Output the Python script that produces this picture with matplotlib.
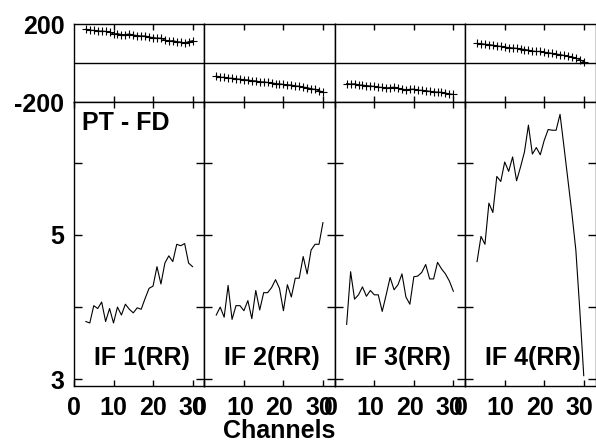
import numpy as np
import matplotlib
matplotlib.use('Agg')
import matplotlib.pyplot as plt
import matplotlib.transforms as mtransforms

plt.rcParams['font.family'] = ['Liberation Sans', 'DejaVu Sans']
plt.rcParams['font.weight'] = 'bold'

# Channels
channels = np.arange(3, 31)

# Top row: PT - FD differences per IF
top_if1 = [173, 169, 167, 164, 164, 162, 159, 149, 151, 146, 146, 149, 144, 141,
           139, 139, 133, 131, 128, 128, 118, 113, 115, 110, 108, 103, 110, 115]
top_if2 = [-65, -72, -71, -76, -76, -80, -81, -84, -85, -89, -90, -95, -95, -98,
           -99, -104, -105, -108, -110, -111, -116, -117, -122, -124, -130, -133, -140, -147]
top_if3 = [-104, -106, -105, -110, -112, -114, -116, -118, -122, -123, -126, -124, -122, -127,
           -132, -135, -133, -132, -137, -138, -140, -143, -146, -147, -148, -152, -156, -159]
top_if4 = [101, 100, 97, 95, 92, 88, 86, 82, 80, 78, 76, 73, 70, 67,
           62, 60, 60, 56, 54, 50, 47, 44, 40, 36, 32, 27, 18, 8]

# Bottom row: RR values per IF
rr_if1 = [3.80, 3.78, 4.02, 3.98, 4.07, 3.80, 3.98, 3.78, 4.00, 3.89, 4.04, 3.97, 3.92, 3.99,
          3.97, 4.12, 4.26, 4.29, 4.56, 4.32, 4.61, 4.71, 4.63, 4.87, 4.85, 4.88, 4.61, 4.56]
rr_if2 = [3.89, 4.00, 3.86, 4.30, 3.83, 4.02, 4.02, 3.95, 4.09, 3.84, 4.23, 3.96, 4.20, 4.20,
          4.27, 4.38, 4.26, 3.95, 4.31, 4.14, 4.40, 4.40, 4.70, 4.46, 4.79, 4.87, 4.87, 5.17]
rr_if3 = [3.76, 4.49, 4.11, 4.17, 4.28, 4.15, 4.23, 4.17, 4.17, 3.94, 4.17, 4.41, 4.24, 4.31,
          4.46, 4.14, 4.04, 4.42, 4.43, 4.48, 4.59, 4.39, 4.39, 4.62, 4.53, 4.46, 4.36, 4.22]
rr_if4 = [4.63, 4.98, 4.87, 5.44, 5.31, 5.81, 5.74, 6.01, 5.88, 6.08, 5.75, 5.94, 6.15, 6.52,
          6.12, 6.21, 6.11, 6.31, 6.46, 6.45, 6.45, 6.67, 6.22, 5.76, 5.30, 4.79, 3.96, 3.05]

tops = [top_if1, top_if2, top_if3, top_if4]
rrs = [rr_if1, rr_if2, rr_if3, rr_if4]
labels = ['IF 1(RR)', 'IF 2(RR)', 'IF 3(RR)', 'IF 4(RR)']

W, H = 596, 444
fig = plt.figure(figsize=(W / 100, H / 100), dpi=100)

left0 = 74
pw = 130.4
top_y0, top_y1 = 24, 102.5
bot_y1 = 386
fs = 18

# tick labels sit a little left of their ticks in the original
shift = mtransforms.ScaledTranslation(-4 / 100, 0, fig.dpi_scale_trans)

for i in range(4):
    l = (left0 + i * pw) / W
    axt = fig.add_axes([l, (H - top_y1) / H, pw / W, (top_y1 - top_y0) / H])
    axb = fig.add_axes([l, (H - bot_y1) / H, pw / W, (bot_y1 - top_y1) / H])

    axt.plot(channels, tops[i], color='black', lw=0.8, marker='+', ms=6, mew=0.8)
    axt.axhline(0, color='black', lw=1)
    axt.set_xlim(0, 33)
    axt.set_ylim(-200, 200)
    axt.set_xticks([10, 20, 30])
    axt.set_xticklabels([])
    axt.set_yticks([-200, 200])
    axt.tick_params(direction='in', top=True, right=True, length=4, width=1)
    axt.tick_params(axis='y', length=0, pad=7, labelsize=fs)
    if i == 0:
        axt.set_yticklabels(['-200', '200'])
    else:
        axt.set_yticklabels([])

    axb.plot(channels, rrs[i], color='black', lw=0.8)
    axb.set_xlim(0, 33)
    axb.set_ylim(2.907, 6.834)
    axb.set_xticks([0, 10, 20, 30])
    axb.set_xticklabels(['0', '10', '20', '30'])
    axb.set_yticks([3, 4, 5, 6])
    axb.tick_params(direction='in', top=True, right=True, width=1, labelsize=fs)
    axb.tick_params(axis='x', length=4, pad=7)
    axb.tick_params(axis='y', length=6, pad=7)
    if i > 0:
        for lab in axb.get_xticklabels():
            lab.set_transform(lab.get_transform() + shift)
    if i == 0:
        axb.set_yticklabels(['3', '', '5', ''])
        axb.text(0.06, 0.97, 'PT - FD', transform=axb.transAxes, fontsize=fs,
                 fontweight='bold', ha='left', va='top')
    else:
        axb.set_yticklabels([])
    axb.text(0.52, 0.10, labels[i], transform=axb.transAxes, fontsize=fs,
             fontweight='bold', ha='center', va='center')

    for ax in (axt, axb):
        for s in ax.spines.values():
            s.set_linewidth(1)

fig.text(279 / W, (H - 431) / H, 'Channels', fontsize=fs, fontweight='bold',
         ha='center', va='center')

fig.savefig('out.png', dpi=100)
